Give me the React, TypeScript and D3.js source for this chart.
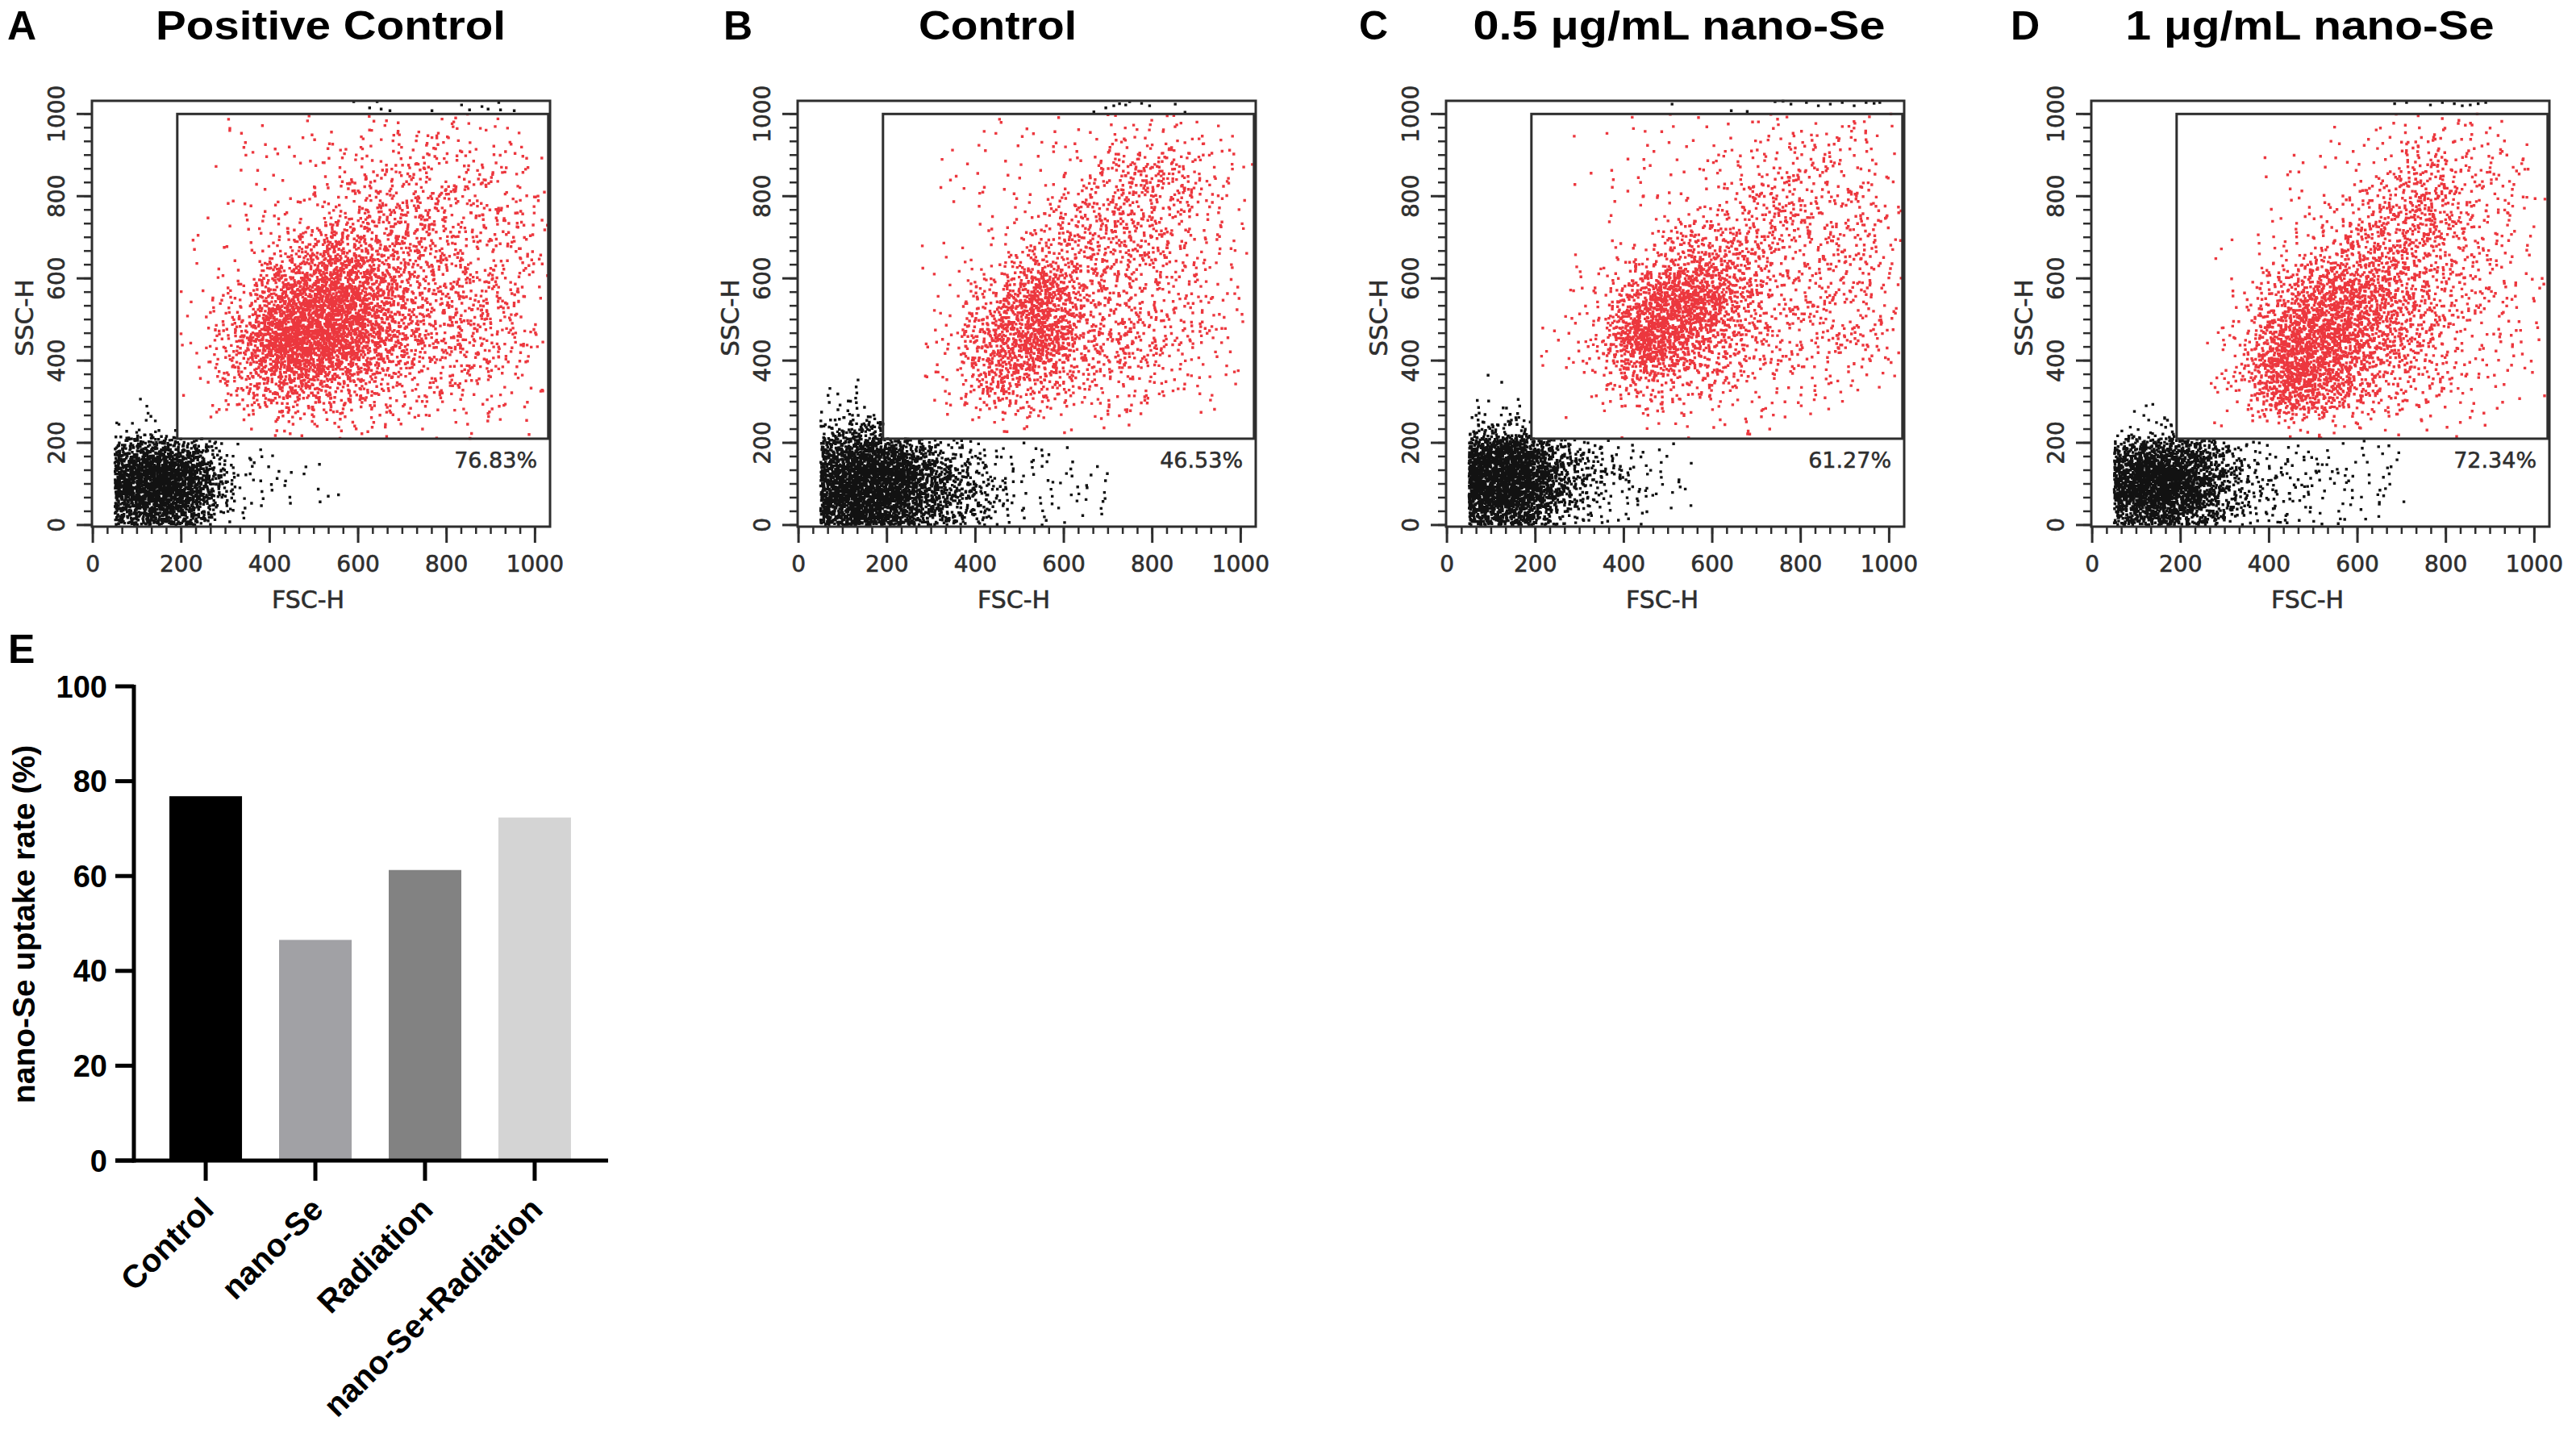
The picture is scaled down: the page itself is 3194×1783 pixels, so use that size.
import React, { useMemo } from 'react';
import * as d3 from 'd3';

// ---------- values ----------
const panelLetters = ['A', 'B', 'C', 'D'];
const panelTitles = ['Positive Control', 'Control', '0.5 μg/mL nano-Se', '1 μg/mL nano-Se'];
const gatePercents = ['76.83%', '46.53%', '61.27%', '72.34%'];
const gateFsc = [191, 1030];
const gateSsc = [210, 1000];
const axisTicks = [0, 200, 400, 600, 800, 1000];

// gated (red) event density per 100x100 channel cell, level 0-9
// rows: SSC 900s down to 200s, columns: FSC 200s .. 900s
const redDensity = [
  ['01112221', '01123332', '01234433', '11465433', '13786443', '15986443', '14654332', '01222111'],
  ['00111221', '01112442', '00124432', '01144432', '01474332', '02674432', '02543321', '00111100'],
  ['00111222', '01112332', '00123433', '01255333', '02685333', '13864333', '02433221', '00111100'],
  ['00011221', '00112432', '00124532', '01245432', '01576432', '03775422', '03864321', '01221110'],
];

// ungated (black) event density per 50x50 channel cell, level 0-9
// rows: SSC 300s down to 0s, columns: FSC 50 .. 700
const blackDensity = [
  ['00000000000000', '01000000000000', '22210000000000', '67763110000000', '89985211100000', '89985211010000', '67763100000000'],
  ['11000000000000', '12110000000000', '45532100000000', '78875432111000', '89997643111110', '89997654211110', '78876543111010'],
  ['01000000000000', '11100000000000', '44421100000000', '89864321100000', '99975432110000', '99975322110000', '77753211000000'],
  ['00000000000000', '01000000000000', '12332100000000', '67775321111110', '89986432221110', '89986432211110', '67765322111100'],
];

// saturated events sitting on the SSC ceiling [FSC, SSC]
const ceilingEvents = [
  [[590, 1030], [626, 1015], [643, 1030], [652, 1012], [672, 1008], [767, 1008], [834, 1022], [852, 1010], [880, 1018], [894, 1012], [918, 1028], [922, 1010], [953, 1008]],
  [[668, 1005], [695, 1015], [713, 1020], [726, 1025], [740, 1022], [749, 1030], [776, 1026], [794, 1020], [852, 1024], [874, 1004]],
  [[509, 1024], [643, 1008], [679, 1006], [742, 1030], [760, 1031], [778, 1024], [813, 1028], [840, 1020], [867, 1024], [894, 1028], [921, 1020], [948, 1028], [966, 1026], [979, 1028]],
  [[684, 1025], [711, 1028], [765, 1022], [792, 1028], [819, 1025], [837, 1020], [855, 1022], [873, 1025], [890, 1028]],
];

// events per cell for each density level
const redLevels = [0, 8, 20, 45, 90, 150, 240, 360, 520, 720];
const blackLevels = [0, 4, 9, 16, 30, 48, 72, 105, 150, 210];

const barCategories = ['Control', 'nano-Se', 'Radiation', 'nano-Se+Radiation'];
const barValues = [76.83, 46.53, 61.27, 72.34];
const barColors = ['#000000', '#a1a1a5', '#828282', '#d4d4d4'];
const barTicks = [0, 20, 40, 60, 80, 100];

// ---------- layout ----------
const W = 3194;
const H = 1783;
const frameLefts = [114, 989, 1793, 2593];
const letterXs = [9, 897, 1685, 2493];
const titleCenters = [410, 1237, 2082, 2864];
const titleWidths = [434, 196, 511, 457];
const sansBold = "'Liberation Sans', Arial, Helvetica, sans-serif";
const axisFont = "'DejaVu Sans', Verdana, sans-serif";
const ink = '#2e2e2e';
const dot = 3.4;

// low-discrepancy sequence, used to spread a cell's events inside it
const halton = (i: number, b: number) => {
  let f = 1;
  let r = 0;
  while (i > 0) {
    f /= b;
    r += f * (i % b);
    i = Math.floor(i / b);
  }
  return r;
};

// turn a density grid into event positions (tent spread over neighbouring cells)
function spread(
  grid: string[],
  x0: number,
  y0: number,
  cell: number,
  levels: number[],
  seed: number,
  fix: (p: [number, number]) => [number, number] | null
) {
  const pts: [number, number][] = [];
  let idx = seed;
  const rows = grid.length;
  grid.forEach((row, r) => {
    const cy = y0 + (rows - 1 - r) * cell + cell / 2;
    row.split('').forEach((ch, c) => {
      const n = levels[+ch];
      const cx = x0 + c * cell + cell / 2;
      for (let k = 0; k < n; k++) {
        idx++;
        const fx = cx + (halton(idx, 2) + halton(idx, 3) - 1) * cell;
        const fy = cy + (halton(idx, 5) + halton(idx, 7) - 1) * cell;
        const p = fix([fx, fy]);
        if (p) pts.push(p);
      }
    });
  });
  return pts;
}

const inGate = (fx: number, fy: number) =>
  fx > gateFsc[0] && fx < gateFsc[1] && fy > gateSsc[0] && fy < gateSsc[1];

const ScatterPanel: React.FC<{ i: number }> = ({ i }) => {
  const L = frameLefts[i];
  const x = d3.scaleLinear().domain([-2, 1034]).range([L, L + 568]);
  const y = d3.scaleLinear().domain([-4, 1032]).range([653, 125]);

  const { redPath, blackPath } = useMemo(() => {
    const red = spread(redDensity[i], 200, 200, 100, redLevels, 1 + i * 7919, ([fx, fy]) =>
      inGate(fx, fy) ? [fx, fy] : null
    );
    const black = spread(blackDensity[i], 50, 0, 50, blackLevels, 90000 + i * 6151, ([fx, fy]) => {
      const a = fx < 50 ? 100 - fx : fx;
      const b = fy < 0 ? -fy : fy;
      if (a > 1030 || b > 1030 || inGate(a, b)) return null;
      return [a, b];
    });
    ceilingEvents[i].forEach((p) => black.push([p[0], p[1]]));
    const h = dot / 2;
    const toPath = (pts: [number, number][]) =>
      pts
        .map(([a, b]) => `M${(x(a) - h).toFixed(1)} ${(y(b) - h).toFixed(1)}h${dot}v${dot}h-${dot}z`)
        .join('');
    return { redPath: toPath(red), blackPath: toPath(black) };
  }, [i]);

  const minor = d3.range(0, 1001, 200 / 6);

  return (
    <g>
      <text x={letterXs[i]} y={49} fontFamily={sansBold} fontWeight="bold" fontSize={50}>
        {panelLetters[i]}
      </text>
      <text
        x={titleCenters[i]}
        y={49}
        textAnchor="middle"
        fontFamily={sansBold}
        fontWeight="bold"
        fontSize={50}
        textLength={titleWidths[i]}
        lengthAdjust="spacingAndGlyphs"
      >
        {panelTitles[i]}
      </text>

      <path d={blackPath} fill="#121212" />
      <path d={redPath} fill="#ea2129" opacity={0.9} />

      <rect x={L} y={125} width={568} height={528} fill="none" stroke={ink} strokeWidth={3} />
      <rect
        x={x(gateFsc[0])}
        y={y(gateSsc[1])}
        width={x(gateFsc[1]) - x(gateFsc[0])}
        height={y(gateSsc[0]) - y(gateSsc[1])}
        fill="none"
        stroke={ink}
        strokeWidth={3}
      />

      {minor.map((t) => (
        <g key={`m${t}`} stroke={ink} strokeWidth={2.5}>
          <line x1={L - 10} x2={L} y1={y(t)} y2={y(t)} />
          <line x1={x(t)} x2={x(t)} y1={653} y2={662} />
        </g>
      ))}
      {axisTicks.map((t) => (
        <g key={`t${t}`}>
          <line x1={L - 19} x2={L} y1={y(t)} y2={y(t)} stroke={ink} strokeWidth={3} />
          <line x1={x(t)} x2={x(t)} y1={653} y2={673} stroke={ink} strokeWidth={3} />
          <text
            x={x(t)}
            y={709}
            textAnchor="middle"
            fontFamily={axisFont}
            fontSize={28}
            fill={ink}
            stroke={ink}
            strokeWidth={0.6}
          >
            {t}
          </text>
          <text
            transform={`translate(${L - 34},${y(t)}) rotate(-90)`}
            textAnchor="middle"
            fontFamily={axisFont}
            fontSize={28}
            fill={ink}
            stroke={ink}
            strokeWidth={0.6}
          >
            {t}
          </text>
        </g>
      ))}

      <text
        x={x(1005)}
        y={580}
        textAnchor="end"
        fontFamily={axisFont}
        fontSize={27}
        fill={ink}
        stroke={ink}
        strokeWidth={0.5}
      >
        {gatePercents[i]}
      </text>
      <text
        x={L + 268}
        y={754}
        textAnchor="middle"
        fontFamily={axisFont}
        fontSize={30}
        fill={ink}
        stroke={ink}
        strokeWidth={0.6}
      >
        FSC-H
      </text>
      <text
        transform={`translate(${L - 73},394) rotate(-90)`}
        textAnchor="middle"
        fontFamily={axisFont}
        fontSize={31}
        fill={ink}
        stroke={ink}
        strokeWidth={0.6}
      >
        SSC-H
      </text>
    </g>
  );
};

const BarPanel: React.FC = () => {
  const x = d3
    .scaleBand<string>()
    .domain(barCategories)
    .range([166, 752])
    .paddingInner(0.338)
    .paddingOuter(0.324);
  const y = d3.scaleLinear().domain([0, 100]).range([1439, 851]);

  return (
    <g fontFamily={sansBold} fontWeight="bold">
      <text x={10} y={822} fontSize={50}>
        E
      </text>

      {barCategories.map((c, k) => (
        <rect
          key={c}
          x={x(c)!}
          y={y(barValues[k])}
          width={x.bandwidth()}
          height={y(0) - y(barValues[k])}
          fill={barColors[k]}
        />
      ))}

      <line x1={166} x2={166} y1={y(100) - 2} y2={y(0) + 2.5} stroke="#000" strokeWidth={5} />
      <line x1={143} x2={754} y1={y(0)} y2={y(0)} stroke="#000" strokeWidth={5} />

      {barTicks.map((t) => (
        <g key={t}>
          <line x1={143} x2={166} y1={y(t)} y2={y(t)} stroke="#000" strokeWidth={5} />
          <text x={133} y={y(t)} dy="0.36em" textAnchor="end" fontSize={38}>
            {t}
          </text>
        </g>
      ))}

      {barCategories.map((c) => {
        const cx = x(c)! + x.bandwidth() / 2;
        return (
          <g key={`x${c}`}>
            <line x1={cx} x2={cx} y1={y(0)} y2={y(0) + 25} stroke="#000" strokeWidth={5} />
            <text
              transform={`translate(${cx + 12},${1502}) rotate(-45)`}
              textAnchor="end"
              fontSize={40}
            >
              {c}
            </text>
          </g>
        );
      })}

      <text transform="translate(43,1146) rotate(-90)" textAnchor="middle" fontSize={39}>
        nano-Se uptake rate (%)
      </text>
    </g>
  );
};

export default function App() {
  return (
    <svg
      width={W}
      height={H}
      viewBox={`0 0 ${W} ${H}`}
      style={{ position: 'absolute', left: 0, top: 0, background: '#fff' }}
    >
      <rect width={W} height={H} fill="#fff" />
      {panelLetters.map((_, i) => (
        <ScatterPanel key={i} i={i} />
      ))}
      <BarPanel />
    </svg>
  );
}
